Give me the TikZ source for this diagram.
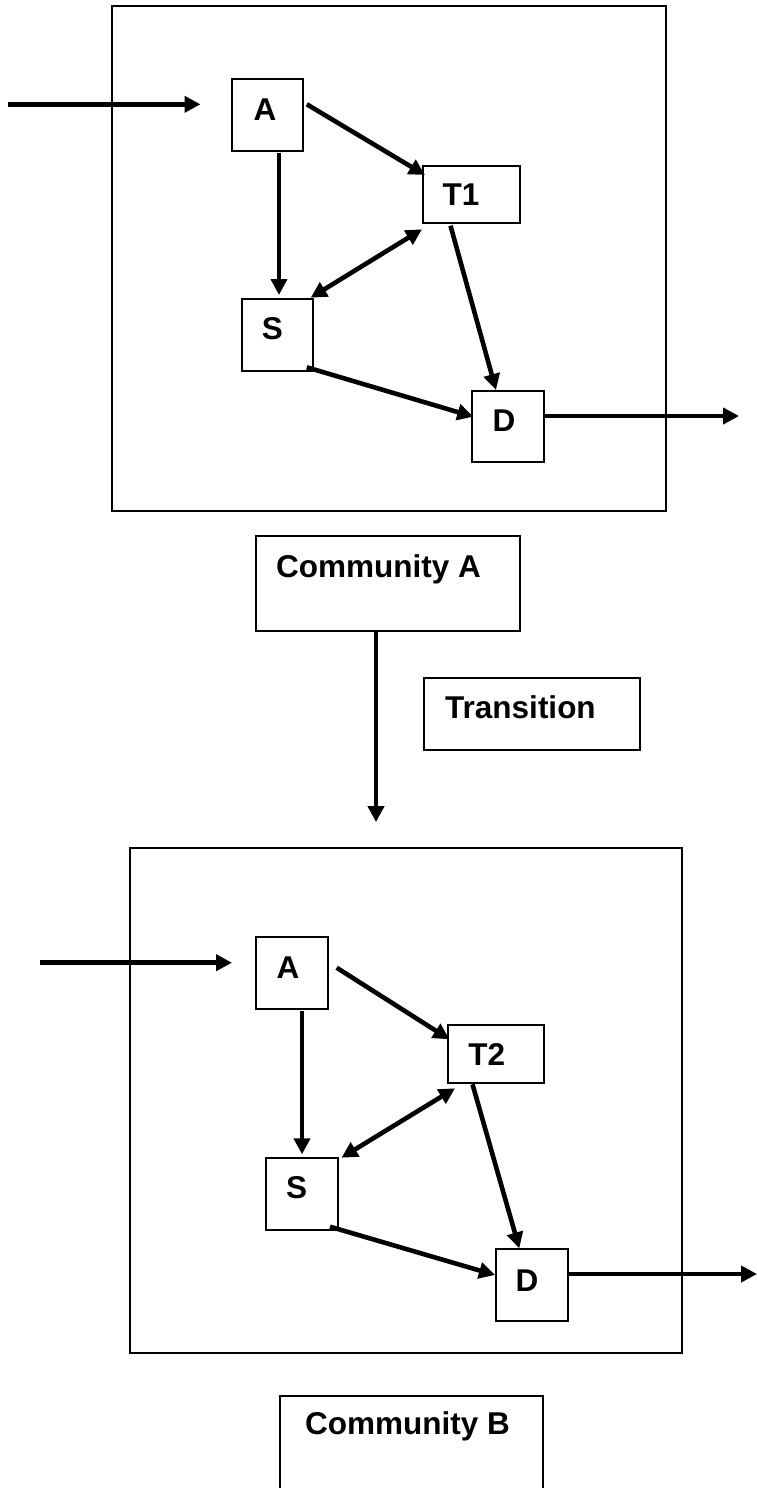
\documentclass[tikz,border=0pt]{standalone}
\usepackage{fontspec}
\setmainfont{Liberation Sans}
\usetikzlibrary{arrows.meta,calc}
\newcommand\lblfont{\fontsize{31.5pt}{36pt}\selectfont\bfseries}
\begin{document}
\begin{tikzpicture}[x=1pt,y=-1pt,
  frame/.style={draw, line width=2pt, inner sep=0, outer sep=0},
  box/.style={draw, line width=2pt, fill=white, inner sep=0, outer sep=0},
  lbl/.style={font=\lblfont, inner sep=0},
  arr/.style={line width=4.6pt, -{Triangle[length=16pt,width=16pt]}},
  darr/.style={line width=4.6pt, {Triangle[length=16pt,width=16pt]}-{Triangle[length=16pt,width=16pt]}}]
\useasboundingbox (0,0) rectangle (757,1488);
% ---------- top community ----------
\node[frame, minimum width=554pt, minimum height=505pt] (fr1) at (389,258.5) {};
\node[box, minimum width=71pt, minimum height=72pt, label={[lbl,xshift=-2.5pt,yshift=5.5pt]center:A}] (A1) at (267.5,115) {};
\node[box, minimum width=97pt, minimum height=57pt, label={[lbl,xshift=-10.5pt]center:T1}] (T1) at (471.5,194.5) {};
\node[box, minimum width=71pt, minimum height=72pt, label={[lbl,xshift=-4.5pt,yshift=6pt]center:S}] (S1) at (277,335) {};
\node[box, minimum width=72pt, minimum height=71pt, label={[lbl,xshift=-4pt,yshift=6pt]center:D}] (D1) at (508,426.5) {};
\coordinate (in1) at (8,104.3);
\coordinate (out1) at (739,416);
\draw[arr] (in1) -- ($(A1.west)+(-31.5,-10.7)$);
\draw[arr] ($(A1.east)+(3.8,-10.7)$) -- ($(T1.north west)+(2,9)$);
\draw[arr] ($(A1.south)+(11.5,1.7)$) -- ($(S1.north)+(2,-4)$);
\draw[darr] ($(T1.south west)+(-1,6.3)$) -- ($(S1.north east)+(-1.8,-1.3)$);
\draw[arr] ($(T1.south)+(-21,2.7)$) -- ($(D1.north)+(-12,-1)$);
\draw[arr] ($(S1.south east)+(-5.7,-3.7)$) -- ($(D1.west)+(1.3,-9.8)$);
\draw[arr] ($(D1.east)+(0,-10.5)$) -- (out1);
% ---------- labels and transition ----------
\node[box, minimum width=264pt, minimum height=95pt, label={[lbl,anchor=base west,xshift=20pt,yshift=-41pt]north west:Community A}] (CA) at (388,583.5) {};
\node[box, minimum width=216pt, minimum height=72pt, label={[lbl,anchor=base west,xshift=21pt,yshift=-40pt]north west:Transition}] (TR) at (532,714) {};
\coordinate (trend) at (376,822);
\draw[arr] ($(CA.south west)+(120,0)$) -- (trend);
% ---------- bottom community ----------
\node[frame, minimum width=552.5pt, minimum height=504.5pt] (fr2) at (405.75,1100.25) {};
\node[box, minimum width=72pt, minimum height=72pt, label={[lbl,xshift=-4pt,yshift=5pt]center:A}] (A2) at (292,973) {};
\node[box, minimum width=96pt, minimum height=58pt, label={[lbl,xshift=-9.3pt,yshift=-0.7pt]center:T2}] (T2) at (496,1054) {};
\node[box, minimum width=72pt, minimum height=72pt, label={[lbl,xshift=-5.4pt,yshift=6pt]center:S}] (S2) at (302,1194) {};
\node[box, minimum width=72pt, minimum height=72pt, label={[lbl,xshift=-5pt,yshift=4pt]center:D}] (D2) at (532,1285) {};
\coordinate (in2) at (40,962.7);
\coordinate (out2) at (757,1274);
\draw[arr] (in2) -- ($(A2.west)+(-24,-10.3)$);
\draw[arr] ($(A2.east)+(8.7,-5.3)$) -- ($(T2.west)+(1.3,-14.7)$);
\draw[arr] ($(A2.south)+(10,2)$) -- ($(S2.north)+(0,-3.7)$);
\draw[darr] ($(T2.south west)+(7,5.3)$) -- ($(S2.north east)+(3.5,-0.3)$);
\draw[arr] ($(T2.south)+(-23.5,1.3)$) -- ($(D2.north)+(-12.7,-0.7)$);
\draw[arr] ($(S2.south east)+(-8,-3.3)$) -- ($(D2.west)+(-1,-10)$);
\draw[arr] ($(D2.east)+(0,-11)$) -- (out2);
% ---------- community B ----------
\node[box, minimum width=263pt, minimum height=96pt, label={[lbl,anchor=base west,xshift=25pt,yshift=-38pt]north west:Community B}] (CB) at (411.5,1444) {};
\end{tikzpicture}
\end{document}
